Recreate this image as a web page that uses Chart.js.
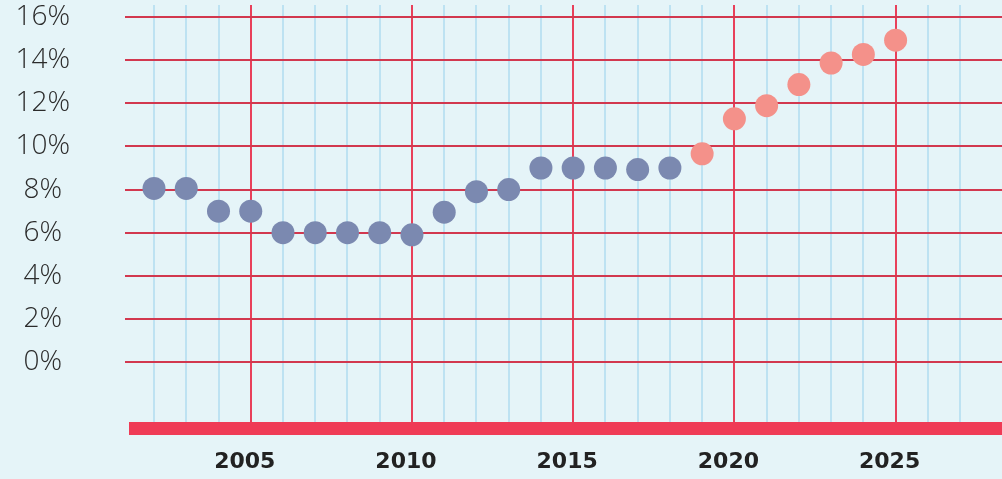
<!DOCTYPE html>
<html lang="en">
<head>
    <meta charset="UTF-8">
    <title>Rate chart</title>
    <script src="https://cdn.jsdelivr.net/npm/chart.js"></script>
    <style>
        body {
            margin: 0;
            padding: 0;
            background-color: #e5f4f8;
        }
        #wrap {
            width: 1002px;
            height: 479px;
        }
    </style>
</head>
<body>
    <div id="wrap"><canvas id="rateChart"></canvas></div>

    <script>
        // Data
        const histYears = [2002, 2003, 2004, 2005, 2006, 2007, 2008, 2009, 2010, 2011, 2012, 2013, 2014, 2015, 2016, 2017, 2018];
        const histValues = [8.05, 8.05, 7.0, 7.0, 6.0, 6.0, 6.0, 6.0, 5.9, 6.95, 7.9, 8.0, 9.0, 9.0, 9.0, 8.93, 9.0];
        const projYears = [2019, 2020, 2021, 2022, 2023, 2024, 2025];
        const projValues = [9.66, 11.28, 11.89, 12.87, 13.87, 14.27, 14.93];
        const yTicks = [0, 2, 4, 6, 8, 10, 12, 14, 16];
        const xGridYears = [2002, 2003, 2004, 2005, 2006, 2007, 2008, 2009, 2010, 2011, 2012, 2013, 2014,
                            2015, 2016, 2017, 2018, 2019, 2020, 2021, 2022, 2023, 2024, 2025, 2026, 2027];
        const xLabelYears = [2005, 2010, 2015, 2020, 2025];

        const toPoints = (xs, ys) => xs.map((x, i) => ({ x: x, y: ys[i] }));

        // thick red bar under the plot
        const baseBar = {
            id: 'baseBar',
            afterDraw(chart) {
                const { ctx, chartArea } = chart;
                ctx.save();
                ctx.fillStyle = '#ef3b56';
                ctx.fillRect(chartArea.left + 4, chartArea.bottom, chart.width - chartArea.left, 13);
                ctx.restore();
            }
        };

        const ctx = document.getElementById('rateChart').getContext('2d');
        const rateChart = new Chart(ctx, {
            type: 'scatter',
            data: {
                datasets: [{
                    label: 'Actual',
                    data: toPoints(histYears, histValues),
                    backgroundColor: '#7b89b0',
                    borderWidth: 0,
                    pointRadius: 11.5
                }, {
                    label: 'Projected',
                    data: toPoints(projYears, projValues),
                    backgroundColor: '#f4918a',
                    borderWidth: 0,
                    pointRadius: 11.5
                }]
            },
            options: {
                responsive: true,
                maintainAspectRatio: false,
                animation: false,
                layout: { autoPadding: false, padding: { top: 5, left: 0, right: 0, bottom: 0 } },
                plugins: {
                    legend: { display: false },
                    tooltip: { enabled: false }
                },
                scales: {
                    x: {
                        type: 'linear',
                        min: 2001.1,
                        max: 2028.3,
                        afterBuildTicks: s => { s.ticks = xGridYears.map(v => ({ value: v })); },
                        afterFit: s => {
                            s.height = 57;
                            s.paddingLeft = 0;
                            s.paddingRight = 0;
                        },
                        border: { display: false },
                        grid: {
                            drawTicks: false,
                            lineWidth: 2,
                            color: c => xLabelYears.includes(c.tick && c.tick.value) ? '#e8405a' : '#bde2f2'
                        },
                        ticks: {
                            autoSkip: false,
                            maxRotation: 0,
                            padding: 27,
                            labelOffset: -6,
                            color: '#222222',
                            font: { family: 'DejaVu Sans', size: 22, weight: 'bold' },
                            callback: v => xLabelYears.includes(v) ? String(v) : ''
                        }
                    },
                    y: {
                        min: -2.78,
                        max: 16.56,
                        afterBuildTicks: s => { s.ticks = yTicks.map(v => ({ value: v })); },
                        afterFit: s => {
                            s.width = 125;
                            s.paddingTop = 0;
                            s.paddingBottom = 0;
                        },
                        border: { display: false },
                        grid: {
                            drawTicks: false,
                            lineWidth: 2,
                            color: '#d2384f'
                        },
                        ticks: {
                            crossAlign: 'center',
                            padding: 55,
                            color: '#2b2b2b',
                            font: { family: 'Open Sans', size: 28, weight: '300' },
                            callback: v => v + '%'
                        }
                    }
                }
            },
            plugins: [baseBar]
        });
    </script>
</body>
</html>
